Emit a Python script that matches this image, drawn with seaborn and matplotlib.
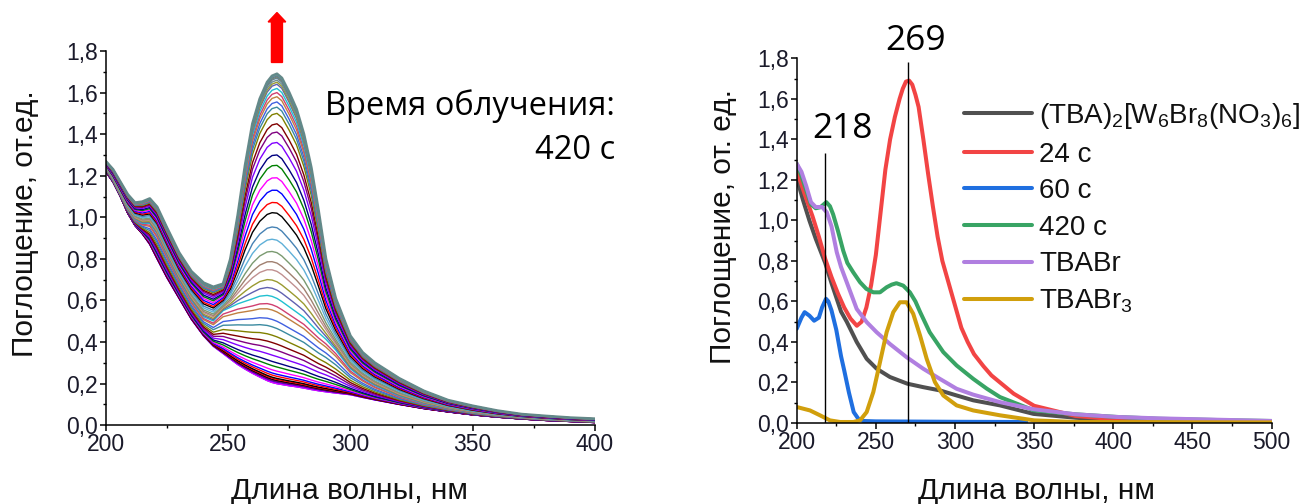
import numpy as np
import pandas as pd
import matplotlib
matplotlib.use('Agg')
import matplotlib.pyplot as plt
from matplotlib.ticker import MultipleLocator, FuncFormatter
from matplotlib.patches import FancyArrow
import seaborn as sns

# ---------- left panel: spectra recorded during irradiation ----------
wl_left = [200, 203, 206, 209, 212, 215, 218, 221, 225, 230, 235, 240, 244, 248, 251, 254,
           257, 260, 263, 266, 268, 270, 272, 275, 278, 281, 284, 287, 290, 294, 300, 305,
           310, 320, 330, 340, 350, 360, 370, 380, 390, 400]
# first scan (bottom of the bundle)
spec_start = [1.22, 1.17, 1.10, 1.02, 0.96, 0.92, 0.87, 0.80, 0.71, 0.61, 0.51, 0.43, 0.38,
              0.345, 0.318, 0.292, 0.27, 0.25, 0.232, 0.215, 0.206, 0.20, 0.196, 0.19, 0.185,
              0.179, 0.172, 0.166, 0.161, 0.155, 0.147, 0.134, 0.122, 0.10, 0.08, 0.064, 0.05,
              0.039, 0.03, 0.023, 0.018, 0.013]
# intermediate scan with the flat band around 260 nm
spec_mid = [1.24, 1.18, 1.11, 1.04, 0.99, 0.97, 0.97, 0.92, 0.82, 0.70, 0.60, 0.52, 0.50, 0.55,
            0.565, 0.58, 0.59, 0.60, 0.612, 0.615, 0.61, 0.60, 0.585, 0.56, 0.535, 0.51, 0.475,
            0.44, 0.41, 0.36, 0.27, 0.225, 0.19, 0.14, 0.105, 0.08, 0.06, 0.046, 0.036, 0.028,
            0.022, 0.018]
# last scan, 420 s
spec_final = [1.27, 1.23, 1.17, 1.11, 1.07, 1.075, 1.09, 1.05, 0.95, 0.83, 0.74, 0.685, 0.665,
              0.68, 0.80, 1.01, 1.25, 1.45, 1.57, 1.65, 1.68, 1.69, 1.67, 1.60, 1.52, 1.40, 1.24,
              1.03, 0.80, 0.61, 0.43, 0.35, 0.30, 0.225, 0.165, 0.12, 0.093, 0.07, 0.053, 0.044,
              0.036, 0.031]
# band maximum (~270 nm) of every recorded scan
peak_abs = [0.20, 0.20, 0.205, 0.21, 0.21, 0.215, 0.22, 0.225, 0.235, 0.245, 0.26, 0.28, 0.30,
            0.33, 0.36, 0.39, 0.425, 0.465, 0.50, 0.545, 0.57, 0.61, 0.65, 0.69, 0.74, 0.78,
            0.83, 0.89, 0.95, 1.02, 1.07, 1.13, 1.19, 1.25, 1.30, 1.36, 1.41, 1.45, 1.50, 1.53,
            1.555, 1.58, 1.60, 1.62, 1.64, 1.65, 1.66, 1.67, 1.675, 1.68, 1.685, 1.69]

# ---------- right panel ----------
tba_x = [200, 204, 208, 212, 215, 218, 222, 225.3, 228, 231.6, 237.9, 244.2, 250.5, 258.9, 269.9,
         279.9, 290.4, 301, 311.5, 328.4, 349.6, 376, 402, 450, 500]
tba_y = [1.21, 1.10, 1.00, 0.91, 0.85, 0.79, 0.69, 0.613, 0.55, 0.50, 0.40, 0.317, 0.268, 0.227,
         0.194, 0.177, 0.161, 0.136, 0.112, 0.087, 0.045, 0.026, 0.013, 0.008, 0.005]
s24_x = [200, 205, 210, 214, 218, 222, 226, 230, 234, 238, 241, 244, 247, 250, 253, 256, 259,
         262, 265, 267, 269, 271, 273, 275, 277, 280, 283, 286, 289, 292, 296, 300, 304, 308,
         312, 318, 323, 330, 337, 350, 376, 402, 428, 500]
s24_y = [1.247, 1.13, 1.02, 0.92, 0.81, 0.72, 0.64, 0.57, 0.515, 0.48, 0.50, 0.57, 0.68, 0.83,
         1.04, 1.25, 1.40, 1.51, 1.60, 1.65, 1.685, 1.69, 1.67, 1.62, 1.56, 1.40, 1.23, 1.07,
         0.92, 0.80, 0.69, 0.58, 0.47, 0.40, 0.34, 0.28, 0.235, 0.19, 0.145, 0.085, 0.035,
         0.018, 0.01, 0.005]
s60_x = [200, 203, 205, 208, 211, 214, 216, 218.5, 220, 222, 225, 228, 230, 233, 236, 239, 242,
         250, 300, 345]
s60_y = [0.465, 0.52, 0.547, 0.53, 0.505, 0.52, 0.57, 0.613, 0.60, 0.555, 0.46, 0.33, 0.26, 0.15,
         0.054, 0.02, 0.01, 0.008, 0.006, 0.005]
s420_x = [200, 203, 206, 209, 212, 215, 218.7, 221, 223, 226, 229.4, 232, 235.7, 240, 244, 248.4,
          252.6, 256.8, 260, 263, 267.3, 271.5, 275, 278, 284, 292.6, 301, 311.5, 320, 328.4,
          349.6, 376, 402, 428, 476, 500]
s420_y = [1.28, 1.22, 1.15, 1.08, 1.06, 1.065, 1.09, 1.07, 1.03, 0.95, 0.85, 0.79, 0.744, 0.695,
          0.662, 0.645, 0.645, 0.67, 0.683, 0.69, 0.678, 0.645, 0.60, 0.547, 0.448, 0.35, 0.284,
          0.218, 0.17, 0.128, 0.063, 0.043, 0.03, 0.021, 0.013, 0.01]
tbabr_x = [200, 203, 206, 209, 212, 216, 219, 222, 225.3, 228, 231.6, 237.9, 244.2, 250.5, 258.9,
           269.4, 279.9, 290.4, 301, 311.5, 328.4, 349.6, 376, 402, 428, 500]
tbabr_y = [1.28, 1.24, 1.17, 1.09, 1.066, 1.066, 1.04, 0.97, 0.843, 0.77, 0.695, 0.563, 0.498,
           0.448, 0.39, 0.325, 0.268, 0.218, 0.169, 0.14, 0.103, 0.068, 0.043, 0.03, 0.023, 0.01]
tbabr3_x = [200, 208.4, 214.7, 221, 227.4, 235.8, 240, 244.2, 248.4, 252.6, 256.8, 261, 265.2,
            269.4, 273.6, 277.9, 282.1, 287.3, 292.6, 301, 311.5, 328.4, 350, 376, 500]
tbabr3_y = [0.079, 0.062, 0.038, 0.013, 0.005, 0.005, 0.013, 0.054, 0.153, 0.30, 0.448, 0.547,
            0.596, 0.596, 0.539, 0.432, 0.317, 0.202, 0.136, 0.087, 0.062, 0.038, 0.013, 0.005,
            0.003]

right_labels = ['(TBA)$_2$[W$_6$Br$_8$(NO$_3$)$_6$]', '24 с', '60 с', '420 с', 'TBABr', 'TBABr$_3$']
right_colors = ['#505050', '#f24444', '#1f6fe0', '#38a464', '#b07fe0', '#d19f0c']

sns.set_theme(style='ticks')
plt.rcParams['font.family'] = ['Liberation Sans', 'DejaVu Sans']
plt.rcParams['mathtext.fontset'] = 'custom'
plt.rcParams['mathtext.rm'] = 'Liberation Sans'
plt.rcParams['mathtext.default'] = 'regular'
plt.rcParams['text.color'] = '#111111'


def comma(v, pos):
    return f'{v:.1f}'.replace('.', ',')


def style_axes(ax, xmin, xmax):
    ax.set_xlim(xmin, xmax)
    ax.set_ylim(0, 1.8)
    ax.xaxis.set_major_locator(MultipleLocator(50))
    ax.xaxis.set_minor_locator(MultipleLocator(25))
    ax.yaxis.set_major_locator(MultipleLocator(0.2))
    ax.yaxis.set_minor_locator(MultipleLocator(0.1))
    ax.yaxis.set_major_formatter(FuncFormatter(comma))
    ax.spines[['top', 'right']].set_visible(False)
    for s in ['left', 'bottom']:
        ax.spines[s].set_linewidth(1.1)
        ax.spines[s].set_color('black')
    ax.tick_params(which='major', length=4.3, width=1.1, direction='out', labelsize=16.5,
                   pad=1.5, colors='black', labelcolor='#1a1a2a')
    ax.tick_params(which='minor', length=2.3, width=1.0, direction='out', colors='black')
    ax.set_xlabel('')
    ax.set_ylabel('')


fig = plt.figure(figsize=(13.08, 5.04), dpi=100)
ax1 = fig.add_axes([0.0808, 0.1563, 0.3741, 0.7425])
ax2 = fig.add_axes([0.6091, 0.1607, 0.3631, 0.7236])

# ---- left: build every scan from the three read spectra ----
start = np.array(spec_start)
mid = np.array(spec_mid)
final = np.array(spec_final)
ip = wl_left.index(270)
rows = []
for k, p in enumerate(peak_abs):
    if p <= mid[ip]:
        w = (p - start[ip]) / (mid[ip] - start[ip])
        spec = start + w * (mid - start)
    else:
        w = (p - mid[ip]) / (final[ip] - mid[ip])
        spec = mid + w * (final - mid)
    for x, y in zip(wl_left, spec):
        rows.append((k, x, y))
df_left = pd.DataFrame(rows, columns=['scan', 'wl', 'A'])

cycle = ['#000000', '#ff0000', '#0000ff', '#ff00ff', '#008000', '#000080', '#8000ff', '#800080',
         '#800000', '#808000', '#3a8aa0', '#4060e0', '#c08040', '#d04070', '#20c0d0', '#6060b0',
         '#9a9a30', '#c09090', '#a08070', '#7a9a70', '#5fb0d8', '#4682b4']
n = len(peak_abs)
black_idx = peak_abs.index(1.02)
palette = {k: cycle[(k - black_idx) % len(cycle)] for k in range(n)}
bottom_cols = ['#0000ff', '#ff00ff', '#8000ff', '#000080', '#800080', '#000000', '#ff0000']
for k, c in enumerate(bottom_cols):
    palette[k] = c
top_cols = ['#6f8f8f', '#5a7f9f', '#7a8a6a', '#607890', '#6a9090', '#5f8a8a']
for k in range(n - 6, n):
    palette[k] = top_cols[k - n + 6]

# grey outline under the last scan
sns.lineplot(data=df_left[df_left['scan'] == n - 1], x='wl', y='A', ax=ax1,
             color='#6d8b8b', linewidth=2.1, estimator=None, sort=False, zorder=1)
sns.lineplot(data=df_left, x='wl', y='A', hue='scan', palette=palette, ax=ax1, legend=False,
             estimator=None, sort=False, linewidth=1.0, zorder=2)
style_axes(ax1, 200, 400)

ax1.add_patch(FancyArrow(270, 1.745, 0, 0.195, width=4.5, head_width=7.2, head_length=0.045,
                         length_includes_head=False, color='red', clip_on=False, zorder=5))

fig.text(0.470, 0.7718, 'Время облучения:', ha='right', va='baseline', fontsize=23.5,
         family=['Open Sans', 'DejaVu Sans'], color='black')
fig.text(0.4705, 0.6845, '420 с', ha='right', va='baseline', fontsize=23.5,
         family=['Open Sans', 'DejaVu Sans'], color='black')

# ---- right ----
series = [(tba_x, tba_y), (s24_x, s24_y), (s60_x, s60_y), (s420_x, s420_y),
          (tbabr_x, tbabr_y), (tbabr3_x, tbabr3_y)]
for (xs, ys), lab, col in zip(series, right_labels, right_colors):
    sns.lineplot(x=xs, y=ys, ax=ax2, color=col, linewidth=2.9, label=lab,
                 estimator=None, sort=False)
style_axes(ax2, 200, 500)
ax2.vlines([218], 0, 1.332, color='black', linewidth=1.0, zorder=6)
ax2.vlines([270], 0, 1.784, color='black', linewidth=1.0, zorder=6)
fig.text(842 / 1308, 1 - 138 / 504, '218', ha='center', va='baseline', fontsize=25.5,
         family=['Open Sans', 'DejaVu Sans'], color='black')
fig.text(915.5 / 1308, 1 - 50 / 504, '269', ha='center', va='baseline', fontsize=25.5,
         family=['Open Sans', 'DejaVu Sans'], color='black')

leg = ax2.legend(loc='upper left', bbox_to_anchor=(964 / 1308, 1 - 101 / 504),
                 bbox_transform=fig.transFigure, frameon=False, fontsize=20,
                 handlelength=2.45, handletextpad=0.25, labelspacing=0.38,
                 borderpad=0, borderaxespad=0)
for h in leg.get_lines():
    h.set_linewidth(2.9)

# axis titles
fig.text(25 / 1308, 1 - 224 / 504, 'Поглощение, от.ед.', rotation=90, ha='center', va='center',
         fontsize=21.5)
fig.text(723 / 1308, 1 - 226 / 504, 'Поглощение, от. ед.', rotation=90, ha='center',
         va='center', fontsize=21.5)
fig.text(349 / 1308, 1 - 498.6 / 504, 'Длина волны, нм', ha='center', va='baseline',
         fontsize=21.5)
fig.text(1036 / 1308, 1 - 498.6 / 504, 'Длина волны, нм', ha='center', va='baseline',
         fontsize=21.5)

fig.savefig('out.png', dpi=100)
